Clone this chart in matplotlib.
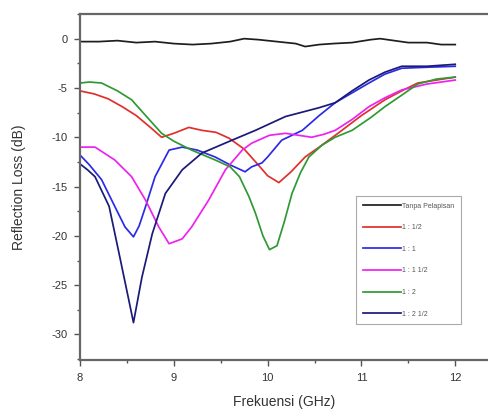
import matplotlib
matplotlib.use("Agg")
import matplotlib.pyplot as plt
from matplotlib.ticker import MultipleLocator

plt.rcParams['font.family'] = ['Liberation Sans', 'DejaVu Sans']
plt.rcParams['axes.unicode_minus'] = False

# frequency (GHz) / reflection loss (dB)
f_black = [8.0, 8.2, 8.4, 8.6, 8.8, 9.0, 9.2, 9.4, 9.6, 9.75, 9.9, 10.1, 10.3, 10.4, 10.55, 10.7, 10.9, 11.1, 11.2, 11.35, 11.5, 11.7, 11.85, 12.0]
rl_black = [-0.3, -0.3, -0.2, -0.4, -0.3, -0.5, -0.6, -0.5, -0.3, 0.0, -0.1, -0.3, -0.5, -0.8, -0.6, -0.5, -0.4, -0.1, 0.0, -0.2, -0.4, -0.4, -0.6, -0.6]

f_red = [8.0, 8.15, 8.3, 8.45, 8.6, 8.75, 8.87, 9.0, 9.16, 9.3, 9.45, 9.59, 9.75, 9.9, 10.0, 10.12, 10.25, 10.4, 10.55, 10.75, 11.0, 11.25, 11.45, 11.6, 11.8, 12.0]
rl_red = [-5.3, -5.6, -6.1, -6.9, -7.8, -9.0, -10.0, -9.6, -9.0, -9.3, -9.5, -10.1, -11.2, -12.8, -13.9, -14.6, -13.5, -12.0, -11.0, -9.6, -7.8, -6.2, -5.2, -4.5, -4.2, -3.9]

f_blue = [8.0, 8.1, 8.23, 8.37, 8.48, 8.57, 8.63, 8.7, 8.8, 8.95, 9.09, 9.25, 9.44, 9.6, 9.76, 9.83, 9.94, 10.0, 10.15, 10.37, 10.55, 10.72, 10.9, 11.08, 11.25, 11.43, 11.7, 12.0]
rl_blue = [-11.8, -12.8, -14.3, -17.0, -19.1, -20.1, -19.0, -17.0, -14.0, -11.3, -11.0, -11.3, -12.0, -12.8, -13.5, -13.0, -12.6, -12.0, -10.3, -9.3, -7.8, -6.5, -5.5, -4.5, -3.6, -3.0, -2.9, -2.8]

f_pink = [8.0, 8.16, 8.37, 8.55, 8.7, 8.84, 8.95, 9.09, 9.19, 9.37, 9.55, 9.73, 9.83, 10.02, 10.19, 10.33, 10.47, 10.6, 10.72, 10.9, 11.08, 11.25, 11.43, 11.7, 12.0]
rl_pink = [-11.0, -11.0, -12.3, -14.0, -16.4, -19.1, -20.8, -20.3, -19.1, -16.4, -13.3, -11.3, -10.6, -9.8, -9.6, -9.8, -10.0, -9.7, -9.3, -8.2, -6.9, -6.0, -5.2, -4.6, -4.2]

f_green = [8.0, 8.1, 8.23, 8.4, 8.55, 8.7, 8.87, 9.0, 9.19, 9.44, 9.6, 9.7, 9.8, 9.87, 9.95, 10.02, 10.1, 10.18, 10.26, 10.35, 10.44, 10.58, 10.72, 10.9, 11.1, 11.25, 11.45, 11.6, 11.8, 12.0]
rl_green = [-4.5, -4.4, -4.5, -5.3, -6.2, -7.8, -9.6, -10.4, -11.3, -12.3, -13.0, -14.0, -16.0, -17.7, -20.0, -21.4, -21.0, -18.5, -15.7, -13.6, -12.0, -10.8, -10.0, -9.3, -8.0, -6.9, -5.6, -4.6, -4.1, -3.9]

f_navy = [8.0, 8.08, 8.16, 8.31, 8.41, 8.52, 8.57, 8.66, 8.77, 8.91, 9.09, 9.3, 9.62, 9.87, 10.19, 10.55, 10.72, 10.9, 11.08, 11.25, 11.43, 11.7, 12.0]
rl_navy = [-12.7, -13.3, -14.0, -17.0, -21.5, -26.5, -28.8, -24.2, -19.8, -15.7, -13.3, -11.6, -10.3, -9.3, -7.9, -7.0, -6.5, -5.3, -4.2, -3.4, -2.8, -2.8, -2.6]

labels = ["Tanpa Pelapisan", "1 : 1/2", "1 : 1", "1 : 1 1/2", "1 : 2", "1 : 2 1/2"]
colors = ["#1e1e1e", "#e0302c", "#2b2be6", "#ee22ee", "#2f9a34", "#1a1a78"]

fig = plt.figure(figsize=(4.89, 4.12), dpi=100)
ax = fig.add_axes([0.1636, 0.126, 0.8364, 0.84])

series = [(f_black, rl_black), (f_red, rl_red), (f_blue, rl_blue),
          (f_pink, rl_pink), (f_green, rl_green), (f_navy, rl_navy)]
for (f, rl), lab, c in zip(series, labels, colors):
    ax.plot(f, rl, color=c, lw=1.25, label=lab)

ax.set_xlim(8, 12.36)
ax.set_ylim(-32.6, 2.5)
ax.xaxis.set_major_locator(MultipleLocator(1))
ax.xaxis.set_minor_locator(MultipleLocator(0.5))
ax.yaxis.set_major_locator(MultipleLocator(5))
ax.yaxis.set_minor_locator(MultipleLocator(2.5))
ax.tick_params(which='both', direction='out', colors='#555555', labelcolor='#333333', labelsize=8, width=1)
ax.tick_params(which='major', length=4, pad=5)
ax.tick_params(which='minor', length=2)
ax.spines['right'].set_visible(False)
for s in ['left', 'bottom', 'top']:
    ax.spines[s].set_color('#666666')
    ax.spines[s].set_linewidth(1.6)

ax.set_xlabel("Frekuensi (GHz)", fontsize=10, color='#333333', labelpad=9)
ax.set_ylabel("Reflection Loss (dB)", fontsize=10, color='#333333', labelpad=18)

leg = ax.legend(loc='upper left', bbox_to_anchor=(0.667, 0.483), fontsize=5,
                handlelength=5.5, labelspacing=2.1, handletextpad=0.2,
                borderpad=0.9, fancybox=False, framealpha=1)
leg.get_frame().set_edgecolor('#aaaaaa')
leg.get_frame().set_linewidth(0.8)
for t in leg.get_texts():
    t.set_color('#555555')

fig.savefig("out.png", dpi=100)
